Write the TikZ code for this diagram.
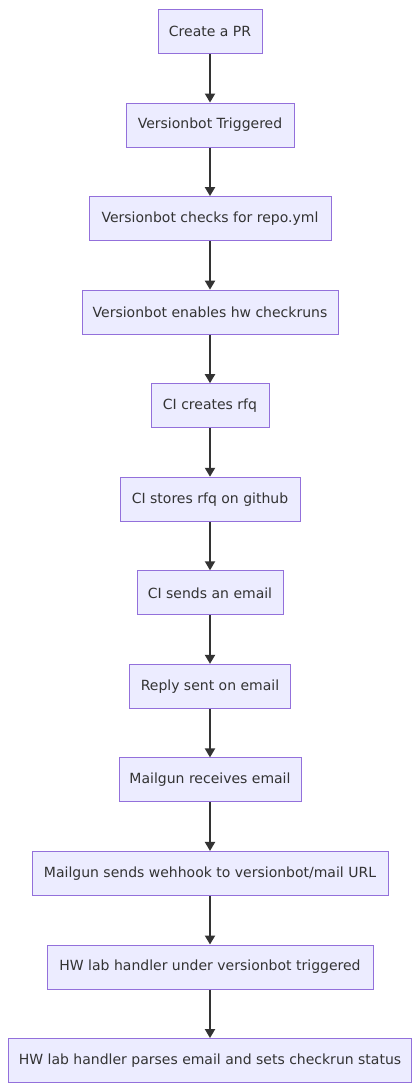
\documentclass[tikz,border=0pt]{standalone}
\usepackage{fontspec}
\setmainfont{DejaVu Sans}
\usetikzlibrary{arrows.meta}
\definecolor{nodefill}{HTML}{ECECFF}
\definecolor{nodeline}{HTML}{9370DB}
\definecolor{txt}{HTML}{333333}
\tikzset{
  stepbox/.style={draw=nodeline, fill=nodefill, line width=1pt, minimum height=44pt,
    inner sep=0pt, text=txt, font=\fontsize{14}{17}\selectfont},
  flow/.style={draw=txt, line width=2pt, -{Triangle[width=10pt,length=9pt]}}
}
\begin{document}
\begin{tikzpicture}[x=1pt,y=-1pt]
\useasboundingbox (0,0) rectangle (420,1092);
\node[stepbox, minimum width=104pt] (n1) at (210,31.5) {Create a PR};
\node[stepbox, minimum width=168pt] (n2) at (210,125.05) {Versionbot Triggered};
\node[stepbox, minimum width=242pt] (n3) at (210,218.6) {Versionbot checks for repo.yml};
\node[stepbox, minimum width=256pt] (n4) at (210,312.15) {Versionbot enables hw checkruns};
\node[stepbox, minimum width=118pt] (n5) at (210,405.7) {CI creates rfq};
\node[stepbox, minimum width=180pt] (n6) at (210,499.25) {CI stores rfq on github};
\node[stepbox, minimum width=146pt] (n7) at (210,592.8) {CI sends an email};
\node[stepbox, minimum width=161pt] (n8) at (210,686.35) {Reply sent on email};
\node[stepbox, minimum width=182pt] (n9) at (210,779.9) {Mailgun receives email};
\node[stepbox, minimum width=356pt] (n10) at (210,873.45) {Mailgun sends wehhook to versionbot/mail URL};
\node[stepbox, minimum width=326pt] (n11) at (210,967) {HW lab handler under versionbot triggered};
\node[stepbox, minimum width=403pt] (n12) at (210,1060.55) {HW lab handler parses email and sets checkrun status};
\foreach \a/\b in {n1/n2,n2/n3,n3/n4,n4/n5,n5/n6,n6/n7,n7/n8,n8/n9,n9/n10,n10/n11,n11/n12}
  \draw[flow] (\a.south) -- (\b.north);
\end{tikzpicture}
\end{document}
